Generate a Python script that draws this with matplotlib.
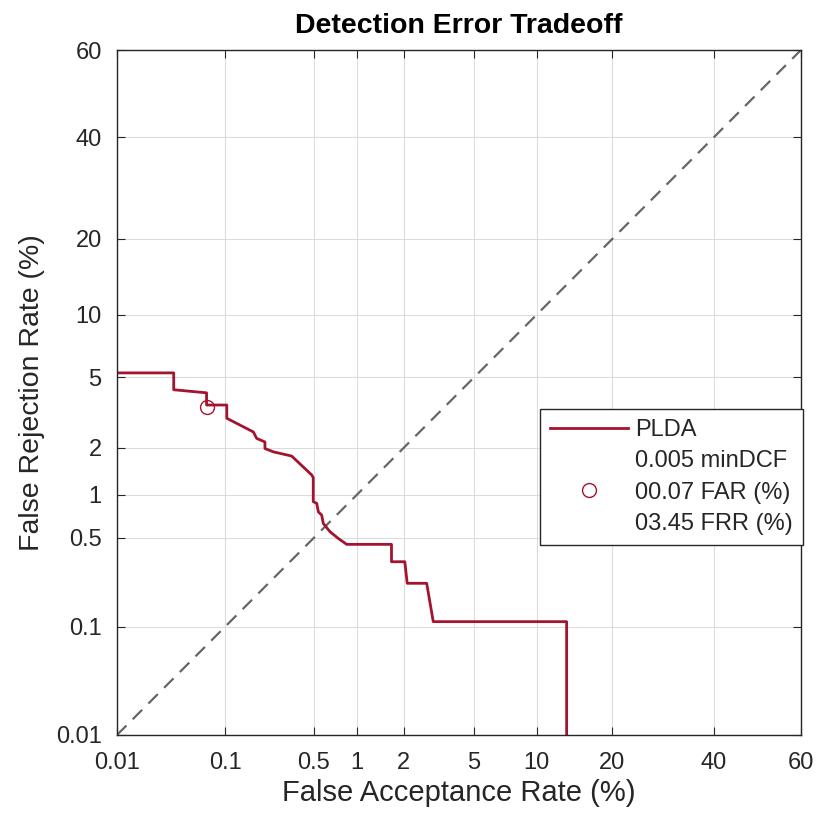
import math
import numpy as np
import matplotlib
matplotlib.use('Agg')
import matplotlib.pyplot as plt
from matplotlib.lines import Line2D

# DET curve values (percent)
far = [0.01, 0.035, 0.035, 0.069, 0.069, 0.103, 0.103, 0.171, 0.182, 0.212, 0.212,
       0.247, 0.342, 0.483, 0.495, 0.495, 0.525, 0.539, 0.570, 0.585, 0.653, 0.747,
       0.854, 1.68, 1.68, 2.03, 2.10, 2.74, 2.99, 13.4, 13.4]
frr = [5.27, 5.27, 4.30, 4.14, 3.55, 3.55, 2.99, 2.49, 2.28, 2.17, 1.98,
       1.89, 1.78, 1.35, 1.30, 0.90, 0.875, 0.766, 0.726, 0.635, 0.554, 0.495,
       0.448, 0.448, 0.332, 0.332, 0.226, 0.226, 0.110, 0.110, 0.0001]
min_far = 0.07
min_frr = 3.45
min_dcf = 0.005
ticks = [0.01, 0.1, 0.5, 1, 2, 5, 10, 20, 40, 60]
tick_labels = ['0.01', '0.1', '0.5', '1', '2', '5', '10', '20', '40', '60']


def ppf(p):
    # Acklam's inverse normal cdf approximation
    a = [-3.969683028665376e+01, 2.209460984245205e+02, -2.759285104469687e+02,
         1.383577518672690e+02, -3.066479806614716e+01, 2.506628277459239e+00]
    b = [-5.447609879822406e+01, 1.615858368580409e+02, -1.556989798598866e+02,
         6.680131188771972e+01, -1.328068155288572e+01]
    c = [-7.784894002430293e-03, -3.223964580411365e-01, -2.400758277161838e+00,
         -2.549671010177304e+00, 4.374664141464968e+00, 2.938163982698783e+00]
    d = [7.784695709041462e-03, 3.224671290700398e-01, 2.445134137142996e+00,
         3.754408661907416e+00]
    p = np.clip(np.asarray(p, dtype=float), 1e-9, 1 - 1e-9)
    out = np.empty_like(p)
    lo = p < 0.02425
    hi = p > 1 - 0.02425
    mid = ~(lo | hi)
    q = np.sqrt(-2 * np.log(p[lo]))
    out[lo] = (((((c[0]*q+c[1])*q+c[2])*q+c[3])*q+c[4])*q+c[5]) / ((((d[0]*q+d[1])*q+d[2])*q+d[3])*q+1)
    q = np.sqrt(-2 * np.log(1 - p[hi]))
    out[hi] = -(((((c[0]*q+c[1])*q+c[2])*q+c[3])*q+c[4])*q+c[5]) / ((((d[0]*q+d[1])*q+d[2])*q+d[3])*q+1)
    q = p[mid] - 0.5
    r = q * q
    out[mid] = (((((a[0]*r+a[1])*r+a[2])*r+a[3])*r+a[4])*r+a[5])*q / (((((b[0]*r+b[1])*r+b[2])*r+b[3])*r+b[4])*r+1)
    return out


_erf = np.frompyfunc(math.erf, 1, 1)


def fwd(x):
    return ppf(np.asarray(x, dtype=float) / 100.0)


def inv(z):
    z = np.asarray(z, dtype=float)
    return 100.0 * 0.5 * (1 + _erf(z / math.sqrt(2)).astype(float))


plt.rcParams['font.family'] = ['Liberation Sans', 'DejaVu Sans']
red = '#A2142F'
txt = '#262626'

fig = plt.figure(figsize=(8.17, 8.17), dpi=100)
ax = fig.add_axes([0.1432, 0.1004, 0.8372, 0.8384])
ax.set_xscale('function', functions=(fwd, inv))
ax.set_yscale('function', functions=(fwd, inv))

ax.plot([0.01, 60], [0.01, 60], color='#666666', linestyle=(0, (6, 4)), linewidth=1.6)
ax.plot(far, frr, color=red, linewidth=2)
ax.plot(min_far, min_frr, 'o', markersize=10, markerfacecolor='none',
        markeredgecolor=red, markeredgewidth=1)

ax.set_xlim(0.01, 60)
ax.set_ylim(0.01, 60)
ax.set_xticks(ticks)
ax.set_xticklabels(tick_labels)
ax.set_yticks(ticks)
ax.set_yticklabels(tick_labels)
ax.minorticks_off()
ax.grid(True, color='#dcdcdc', linewidth=0.8)
ax.set_axisbelow(True)
ax.tick_params(direction='in', top=True, right=True, labelsize=17, colors=txt,
               length=6)
ax.tick_params(axis='x', pad=12)
ax.tick_params(axis='y', pad=11)
for s in ax.spines.values():
    s.set_color(txt)
    s.set_linewidth(1)

ax.set_xlabel('False Acceptance Rate (%)', fontsize=21, color=txt, labelpad=4)
ax.set_ylabel('False Rejection Rate (%)', fontsize=20.5, color=txt, labelpad=8)
ax.set_title('Detection Error Tradeoff', fontsize=20.5, fontweight='bold', pad=12)

handles = [Line2D([], [], color=red, linewidth=2),
           Line2D([], [], linestyle='none'),
           Line2D([], [], linestyle='none', marker='o', markersize=10,
                  markerfacecolor='none', markeredgecolor=red),
           Line2D([], [], linestyle='none')]
labels = ['PLDA', f'{min_dcf:.3f} minDCF', f'{min_far:05.2f} FAR (%)', f'{min_frr:05.2f} FRR (%)']
leg = ax.legend(handles, labels, loc='upper right', bbox_to_anchor=(1.003, 0.476),
                bbox_transform=ax.transAxes, fontsize=17, fancybox=False,
                framealpha=1, edgecolor=txt, handlelength=3.3, borderpad=0.42,
                labelspacing=0.4, handletextpad=0.3, borderaxespad=0)
leg.get_frame().set_linewidth(1)
for t in leg.get_texts():
    t.set_color(txt)

fig.savefig('out.png', dpi=100)
